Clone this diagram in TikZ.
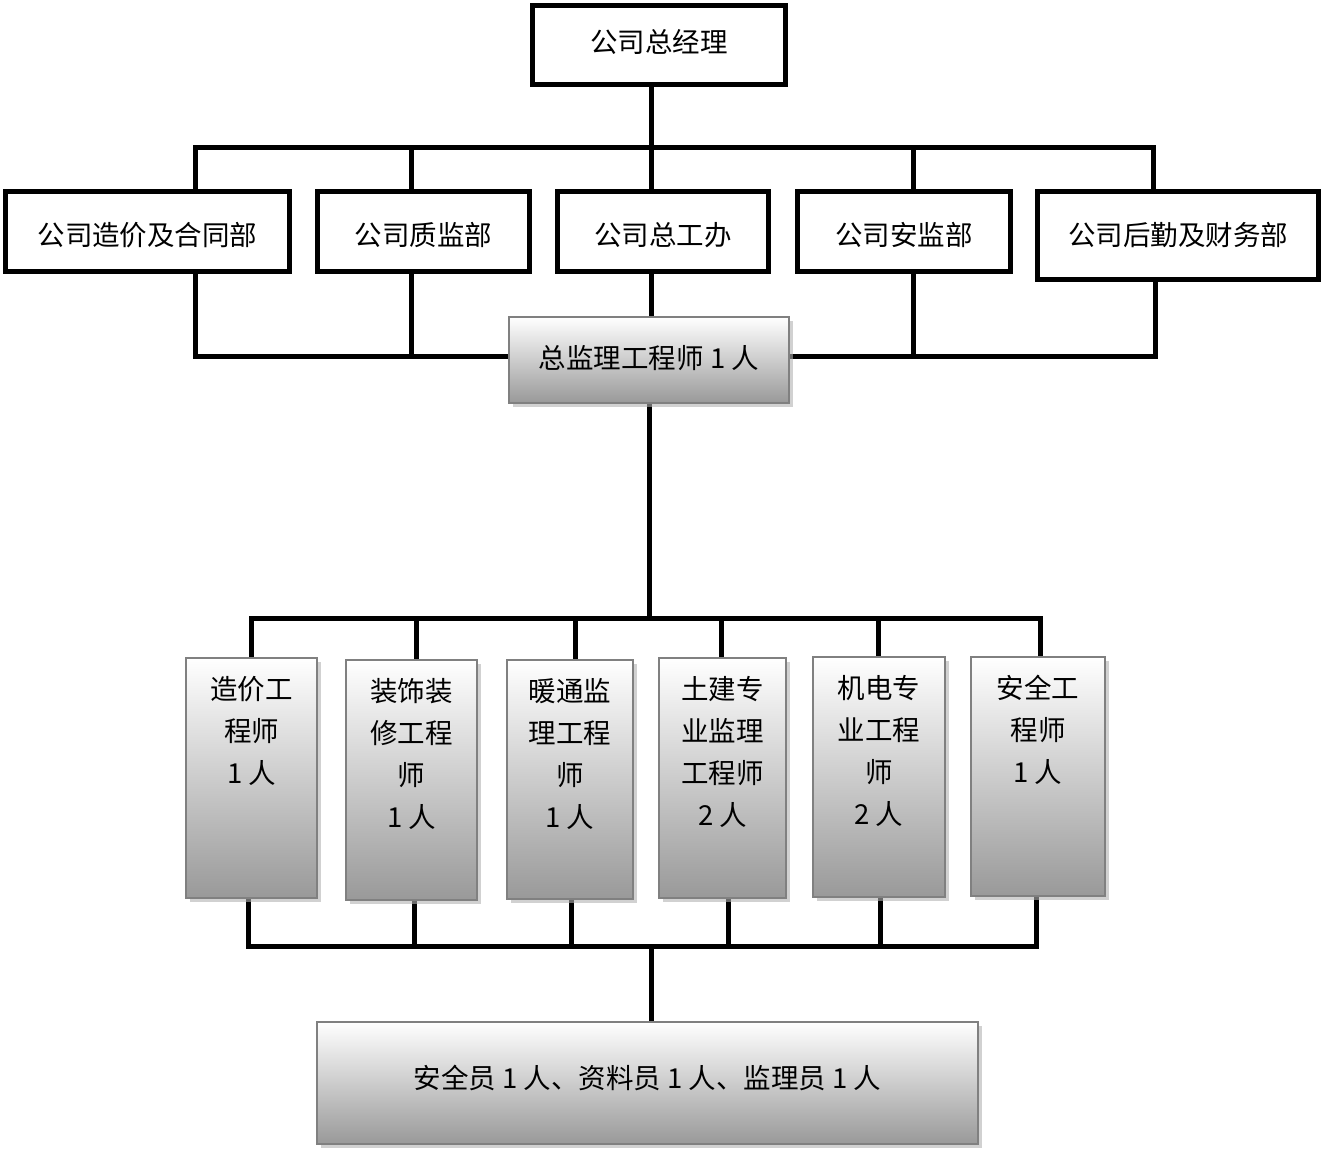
\documentclass[tikz,border=0pt]{standalone}
\usepackage{fontspec}
\setmainfont{Noto Sans CJK SC}
\usetikzlibrary{shadows,backgrounds}
\begin{document}
\begin{tikzpicture}[x=1pt,y=-1pt,
  topbox/.style={draw=black, line width=4.5pt, fill=white, inner sep=0pt,
    font=\fontsize{27.5}{32}\selectfont},
  gbox/.style={draw=black!50, line width=2pt, top color=white, bottom color=black!40,
    inner sep=0pt, font=\fontsize{27.5}{32}\selectfont,
    drop shadow={shadow xshift=4pt, shadow yshift=-4pt, fill=black!30, opacity=0.6}},
  lbl/.style={anchor=north, align=center, inner sep=0pt, font=\fontsize{27.5}{42}\selectfont},
  lower/.style={text height=32pt, text depth=3pt},
  conn/.style={line width=5pt, line cap=rect, line join=miter}]
\useasboundingbox (0,0) rectangle (1323,1150);

% top
\node[topbox, minimum width=253pt, minimum height=79pt, text height=18pt, text depth=3pt] (gm) at (659,45) {公司总经理};
% row 2
\node[topbox, lower, minimum width=284pt, minimum height=80pt] (d1) at (147.5,231.5) {公司造价及合同部};
\node[topbox, lower, minimum width=212pt, minimum height=80pt] (d2) at (423.5,231.5) {公司质监部};
\node[topbox, lower, minimum width=211pt, minimum height=80pt] (d3) at (663,231.5) {公司总工办};
\node[topbox, lower, minimum width=213pt, minimum height=80pt] (d4) at (904,231.5) {公司安监部};
\node[topbox, minimum width=281pt, minimum height=88pt] (d5) at (1178,235.5) {公司后勤及财务部};
% chief
\node[gbox, minimum width=280pt, minimum height=86pt, text height=20pt, text depth=3pt] (cs) at (649,360) {总监理工程师 1 人};
% row 3
\node[gbox, minimum width=131pt, minimum height=240pt] (e1) at (251.5,778) {};
\node[gbox, minimum width=131pt, minimum height=240pt] (e2) at (411.5,780) {};
\node[gbox, minimum width=126pt, minimum height=239pt] (e3) at (570,779.5) {};
\node[gbox, minimum width=127pt, minimum height=240pt] (e4) at (722.5,778) {};
\node[gbox, minimum width=132pt, minimum height=240pt] (e5) at (879,777) {};
\node[gbox, minimum width=134pt, minimum height=239pt] (e6) at (1038,776.5) {};
\node[lbl] (l1) at ([yshift=-19pt]e1.north) {造价工\\程师\\1 人};
\node[lbl] (l2) at ([yshift=-19pt]e2.north) {装饰装\\修工程\\师\\1 人};
\node[lbl] (l3) at ([yshift=-19pt]e3.north) {暖通监\\理工程\\师\\1 人};
\node[lbl] (l4) at ([yshift=-19pt]e4.north) {土建专\\业监理\\工程师\\2 人};
\node[lbl] (l5) at ([yshift=-19pt]e5.north) {机电专\\业工程\\师\\2 人};
\node[lbl] (l6) at ([yshift=-19pt]e6.north) {安全工\\程师\\1 人};
% bottom
\node[gbox, minimum width=661pt, minimum height=122pt, text height=14pt, text depth=3pt] (bb) at (647.5,1083) {安全员 1 人、资料员 1 人、监理员 1 人};

% junction coordinates
\coordinate (xm) at (651,0);
\coordinate (ua1) at (195,148);
\coordinate (ua2) at (411,148);
\coordinate (ua3) at (651,148);
\coordinate (ua4) at (913,148);
\coordinate (ua5) at (1153,148);
\coordinate (la1) at (195,357);
\coordinate (la2) at (411,357);
\coordinate (la4) at (913,357);
\coordinate (la5) at (1155,357);
\coordinate (ub1) at (251,618);
\coordinate (ub2) at (416,618);
\coordinate (ub3) at (575,618);
\coordinate (ub4) at (721,618);
\coordinate (ub5) at (878,618);
\coordinate (ub6) at (1040,618);
\coordinate (lb1) at (248,946);
\coordinate (lb2) at (414,946);
\coordinate (lb3) at (571,946);
\coordinate (lb4) at (728,946);
\coordinate (lb5) at (880,946);
\coordinate (lb6) at (1036,946);
\coordinate (lbm) at (651,946);

\begin{scope}[on background layer]
\draw[conn] (gm.south -| xm) -- (ua3);
\draw[conn] (d1.north -| ua1) -- (ua1) -- (ua5) -- (d5.north -| ua5);
\draw[conn] (ua2) -- (d2.north -| ua2);
\draw[conn] (ua3) -- (d3.north -| ua3);
\draw[conn] (ua4) -- (d4.north -| ua4);
\draw[conn] (d1.south -| la1) -- (la1) -- (cs.west |- la1);
\draw[conn] (d2.south -| la2) -- (la2);
\draw[conn] (d3.south -| xm) -- (cs.north -| xm);
\draw[conn] (cs.east |- la4) -- (la5) -- (d5.south -| la5);
\draw[conn] (la4) -- (d4.south -| la4);
\draw[conn] (cs.south) -- (cs.south |- ub1);
\draw[conn] (e1.north -| ub1) -- (ub1) -- (ub6) -- (e6.north -| ub6);
\draw[conn] (ub2) -- (e2.north -| ub2);
\draw[conn] (ub3) -- (e3.north -| ub3);
\draw[conn] (ub4) -- (e4.north -| ub4);
\draw[conn] (ub5) -- (e5.north -| ub5);
\draw[conn] (e1.south -| lb1) -- (lb1) -- (lb6) -- (e6.south -| lb6);
\draw[conn] (e2.south -| lb2) -- (lb2);
\draw[conn] (e3.south -| lb3) -- (lb3);
\draw[conn] (e4.south -| lb4) -- (lb4);
\draw[conn] (e5.south -| lb5) -- (lb5);
\draw[conn] (lbm) -- (bb.north -| lbm);
\end{scope}
\end{tikzpicture}
\end{document}
